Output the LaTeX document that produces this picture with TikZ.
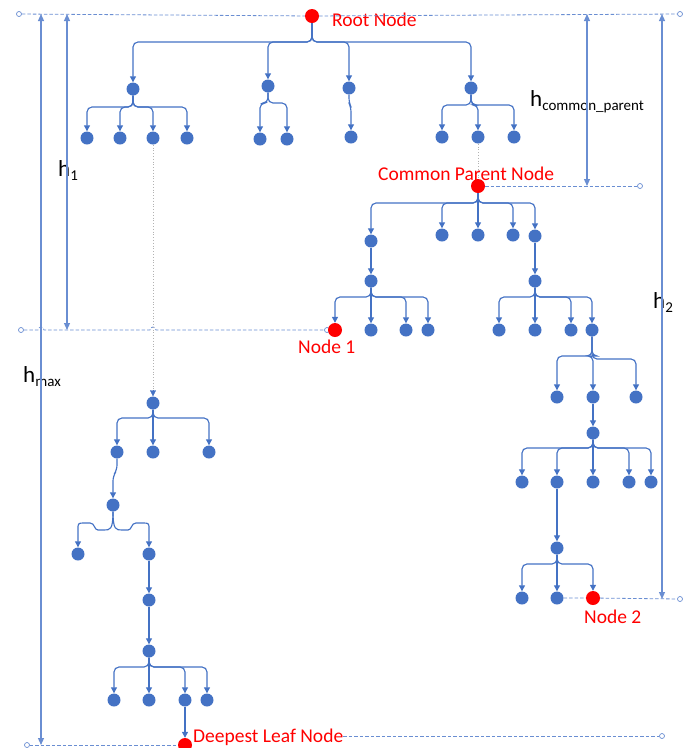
\documentclass[tikz,border=0pt]{standalone}
\usepackage{fontspec}
\setmainfont{Carlito}
\usetikzlibrary{arrows.meta}
\definecolor{nblue}{HTML}{4472C4}
\definecolor{lblue}{HTML}{6A8ED2}
\definecolor{nred}{HTML}{FF0000}
\newcommand\bedge[3]{\draw[edge] (#1.south) -- (#1.south |- 0,#3) -| (#2.north);}
\newcommand\sedge[2]{\draw[edge] (#1.south) -- (#2.north);}
\begin{document}
\begin{tikzpicture}[x=1pt,y=-1pt,
  dot/.style={circle,fill=nblue,minimum size=13pt,inner sep=0pt},
  rdot/.style={circle,fill=nred,minimum size=14pt,inner sep=0pt},
  endc/.style={circle,draw=lblue,fill=white,line width=0.7pt,minimum size=5pt,inner sep=0pt},
  edge/.style={draw=nblue,line width=1.15pt,rounded corners=5pt,-{Triangle[length=6pt,width=6pt]}},
  refl/.style={draw=lblue,line width=0.8pt,dash pattern=on 3.5pt off 2pt},
  dimline/.style={draw=lblue,line width=1.15pt,{Triangle[length=7pt,width=6pt]}-{Triangle[length=7pt,width=6pt]}},
  dotline/.style={draw=gray!60,line width=0.8pt,dotted},
  redlab/.style={anchor=base west,inner sep=0pt,text=nred,font=\fontsize{19.5}{20}\selectfont},
  hlab/.style={anchor=base west,inner sep=0pt,font=\fontsize{23}{23}\selectfont}]
\useasboundingbox (0,0) rectangle (686,748);

% reference end points
\node[endc] (t0) at (19,14) {};
\node[endc] (t1) at (680,14) {};
\node[endc] (cpe) at (640,186) {};
\node[endc] (n10) at (21,330) {};
\node[endc] (n11) at (327,330) {};
\node[endc] (n2e) at (680,599) {};
\node[endc] (b0) at (27,745) {};
\node[endc] (b1) at (662,736) {};

% tree nodes
\node[rdot] (root) at (312,16) {};
\node[dot] (La) at (133,89) {};
\node[dot] (Lb) at (268,86) {};
\node[dot] (Lc) at (349,88) {};
\node[dot] (Ld) at (471,88) {};
\node[dot] (a1) at (87,138) {};
\node[dot] (a2) at (120,138) {};
\node[dot] (a3) at (153,138) {};
\node[dot] (a4) at (187,138) {};
\node[dot] (b1n) at (260,139) {};
\node[dot] (b2n) at (287,139) {};
\node[dot] (c1) at (351,137) {};
\node[dot] (d1) at (442,137) {};
\node[dot] (d2) at (478,137) {};
\node[dot] (d3) at (514,137) {};
\node[rdot] (cp) at (478,186) {};
\node[dot] (e1) at (371,241) {};
\node[dot] (e2) at (442,235) {};
\node[dot] (e3) at (478,235) {};
\node[dot] (e4) at (513,235) {};
\node[dot] (e5) at (535,236) {};
\node[dot] (f1) at (371,281) {};
\node[rdot] (N1) at (335,330) {};
\node[dot] (g2) at (371,330) {};
\node[dot] (g3) at (406,330) {};
\node[dot] (g4) at (428,330) {};
\node[dot] (h1n) at (535,281) {};
\node[dot] (i1) at (499,330) {};
\node[dot] (i2) at (535,330) {};
\node[dot] (i3) at (571,330) {};
\node[dot] (i4) at (592,330) {};
\node[dot] (j1) at (557,397) {};
\node[dot] (j2) at (593,397) {};
\node[dot] (j3) at (636,397) {};
\node[dot] (k) at (593,433) {};
\node[dot] (l1) at (522,482) {};
\node[dot] (l2) at (557,482) {};
\node[dot] (l3) at (593,482) {};
\node[dot] (l4) at (629,482) {};
\node[dot] (l5) at (651,482) {};
\node[dot] (m) at (557,548) {};
\node[dot] (o1) at (522,598) {};
\node[dot] (o2) at (557,598) {};
\node[rdot] (N2) at (593,598) {};
\node[dot] (p) at (153,403) {};
\node[dot] (q1) at (117,452) {};
\node[dot] (q2) at (153,452) {};
\node[dot] (q3) at (209,452) {};
\node[dot] (r) at (113,505) {};
\node[dot] (s1) at (78,554) {};
\node[dot] (s2) at (149,554) {};
\node[dot] (t) at (149,600) {};
\node[dot] (u) at (149,651) {};
\node[dot] (v1) at (114,700) {};
\node[dot] (v2) at (149,700) {};
\node[dot] (v3) at (185,700) {};
\node[dot] (v4) at (207,700) {};
\node[rdot] (DL) at (185,745) {};

% labels
\node[redlab] (rootlab) at (332,26) {Root Node};
\node[redlab] (cplab) at (378,180) {Common Parent Node};
\node[redlab] (n1lab) at (298,353) {Node 1};
\node[redlab] (n2lab) at (584,623) {Node 2};
\node[redlab] (dllab) at (193,742) {Deepest Leaf Node};
\node[hlab] (hcp) at (530,106) {h\raisebox{-4pt}{\fontsize{15}{15}\selectfont common\_parent}};
\node[hlab] (h1lab) at (58,176) {h\raisebox{-4pt}{\fontsize{15}{15}\selectfont 1}};
\node[hlab] (hmaxlab) at (23,382) {h\raisebox{-4pt}{\fontsize{15}{15}\selectfont max}};
\node[hlab] (h2lab) at (653,308) {h\raisebox{-4pt}{\fontsize{15}{15}\selectfont 2}};

\coordinate (hmT) at (41,14);   \coordinate (hmB) at (41,745);
\coordinate (h1T) at (67,14);   \coordinate (h1B) at (67,330);
\coordinate (hcT) at (587,14);  \coordinate (hcB) at (587,186);
\coordinate (h2T) at (662,14);  \coordinate (h2B) at (662,599);
\coordinate (parr) at (153,392);

% dashed reference lines
\draw[refl] (t0) -- (root) -- (t1);
\draw[refl] (cp) -- (cpe);
\draw[refl] (n10) -- (38,330) arc[start angle=180,end angle=360,radius=3]
  -- (150,330) arc[start angle=180,end angle=360,radius=3] -- (n11);
\draw[refl] (o2) -- (N2) -- (n2e);
\draw[refl] (b0) -- (DL);
\draw[refl] (dllab.east |- 0,736) -- (b1);

% dimension lines
\draw[dimline] (hmT) -- (hmB);
\draw[dimline] (h1T) -- (h1B);
\draw[dimline] (hcT) -- (hcB);
\draw[dimline] (h2T) -- (h2B);

% dotted omissions
\draw[dotline] (a3) -- (p.north);
\draw[draw=nblue,-{Triangle[length=6pt,width=6pt]}] (parr) -- (p.north);
\draw[dotline] (d2) -- (cp);

% edges
\bedge{root}{La}{42}
\bedge{root}{Lb}{42}
\bedge{root}{Ld}{42}
\draw[edge] (root.south) -- (312,42) -| (Lc.north);
\bedge{La}{a1}{107}
\bedge{La}{a2}{107}
\bedge{La}{a3}{107}
\bedge{La}{a4}{107}
\bedge{Lb}{b1n}{103}
\bedge{Lb}{b2n}{103}
\draw[edge] (Lc.south) -- (349,103) -- (351,107) -- (c1.north);
\bedge{Ld}{d1}{105}
\bedge{Ld}{d2}{105}
\bedge{Ld}{d3}{105}
\bedge{cp}{e1}{203}
\bedge{cp}{e2}{203}
\sedge{cp}{e3}
\bedge{cp}{e4}{203}
\bedge{cp}{e5}{203}
\sedge{e1}{f1}
\bedge{f1}{N1}{297}
\sedge{f1}{g2}
\bedge{f1}{g3}{297}
\bedge{f1}{g4}{297}
\sedge{e5}{h1n}
\bedge{h1n}{i1}{297}
\sedge{h1n}{i2}
\bedge{h1n}{i3}{297}
\bedge{h1n}{i4}{297}
\bedge{i4}{j1}{356}
\bedge{i4}{j2}{356}
\bedge{i4}{j3}{359}
\sedge{j2}{k}
\bedge{k}{l1}{448}
\bedge{k}{l2}{448}
\sedge{k}{l3}
\bedge{k}{l4}{448}
\bedge{k}{l5}{448}
\sedge{l2}{m}
\bedge{m}{o1}{564}
\sedge{m}{o2}
\bedge{m}{N2}{564}
\bedge{p}{q1}{418}
\sedge{p}{q2}
\bedge{p}{q3}{418}
\draw[edge] (q1.south) -- (117,470) -- (113,476) -- (r.north);
\draw[edge,rounded corners=0pt] (r.south) .. controls (113,530) and (110,530) .. (104,530) -- (98,530)
  .. controls (94,530) and (95,523) .. (90,523) -- (83,523)
  .. controls (78,523) and (78,524) .. (78,529) -- (s1.north);
\draw[edge,rounded corners=0pt] (r.south) .. controls (113,530) and (116,530) .. (122,530) -- (128,530)
  .. controls (132,530) and (131,523) .. (136,523) -- (144,523)
  .. controls (149,523) and (149,524) .. (149,529) -- (s2.north);
\sedge{s2}{t}
\sedge{t}{u}
\bedge{u}{v1}{667}
\sedge{u}{v2}
\bedge{u}{v3}{667}
\bedge{u}{v4}{667}
\sedge{v3}{DL}
\end{tikzpicture}
\end{document}
